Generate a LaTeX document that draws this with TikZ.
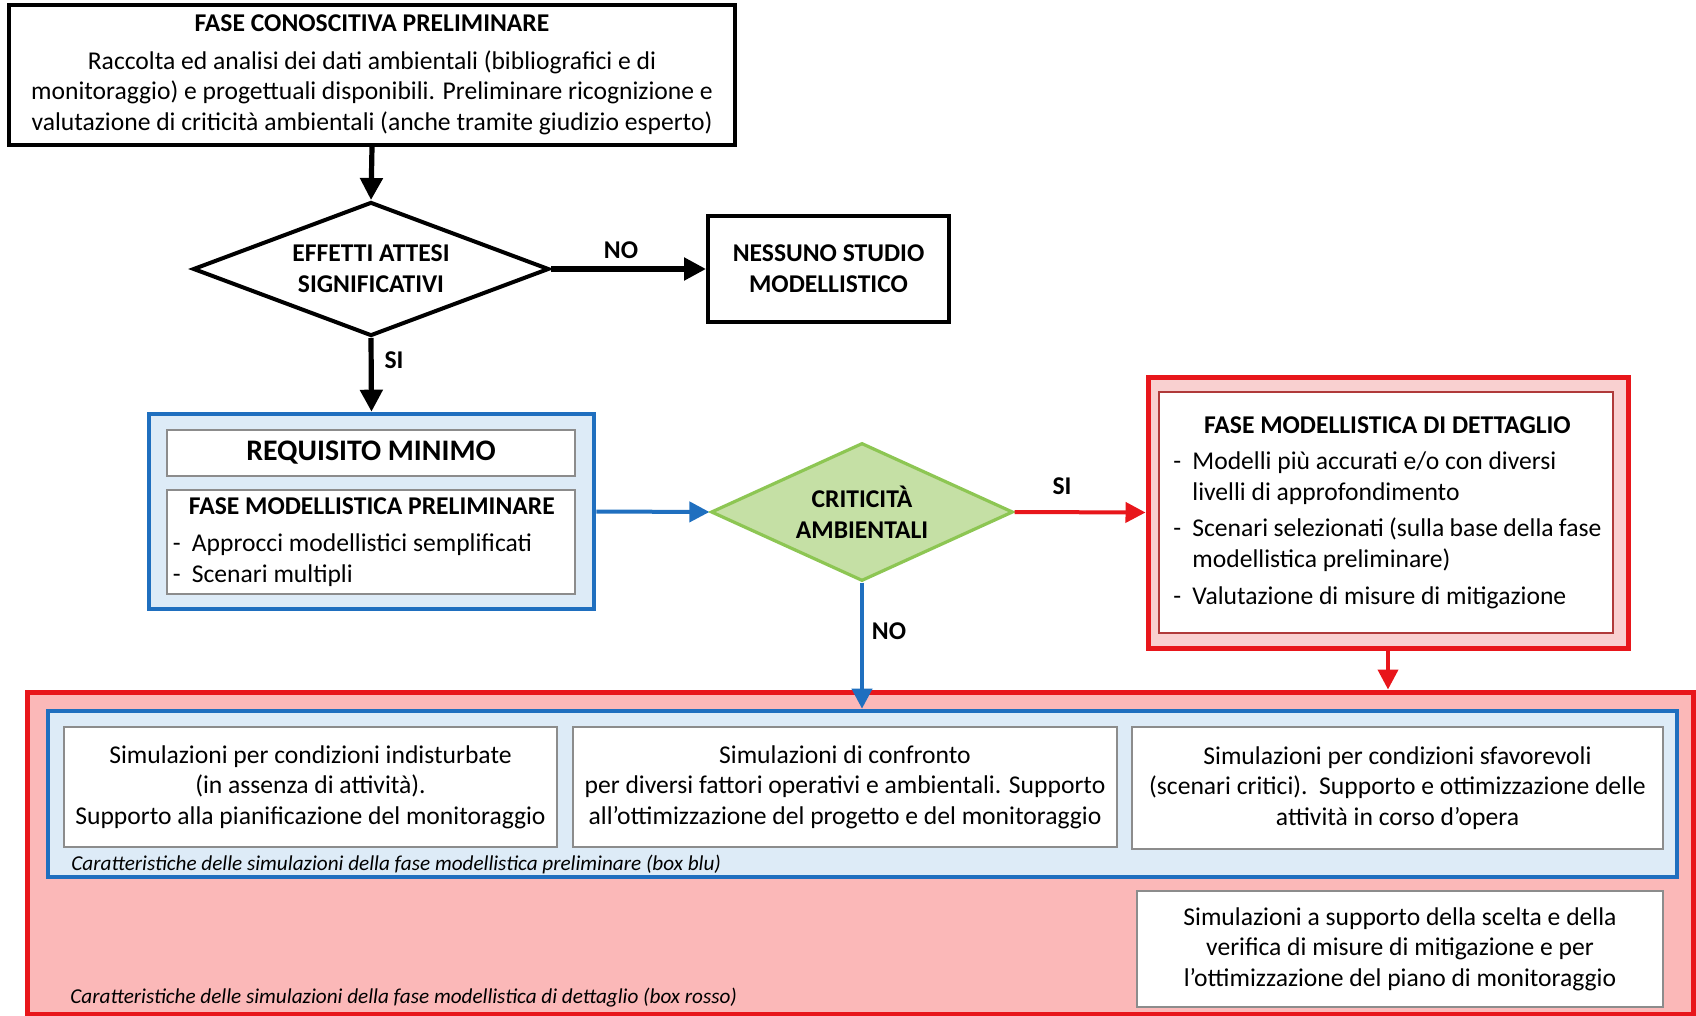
\documentclass[tikz,border=0pt]{standalone}
\usepackage{fontspec}
\setmainfont{Carlito}
\usetikzlibrary{shapes.geometric,arrows.meta,calc}

\definecolor{bblue}{HTML}{1F6FBF}
\definecolor{lblue}{HTML}{DDEBF7}
\definecolor{rred}{HTML}{E8161B}
\definecolor{pinkfill}{HTML}{FBB8B8}
\definecolor{pinkframe}{HTML}{F9D0D0}
\definecolor{gfill}{HTML}{C5E0A5}
\definecolor{gline}{HTML}{8DC653}
\definecolor{thingrey}{HTML}{8C8C8C}
\definecolor{innerred}{HTML}{B03A3A}

% natural interword spacing inside ragged nodes
\newcommand\natspace{\spaceskip=0pt\xspaceskip=0pt\relax}
% one list entry with a leading dash and hanging indent
\newcommand\dashentry[1]{\par\natspace\hangindent=9.5pt\hangafter=1\noindent\makebox[9.5pt][l]{-}#1}

\begin{document}
\begin{tikzpicture}[x=0.5pt,y=-0.5pt,
  base/.style={font=\fontsize{12.8}{15.3}\selectfont},
  blackbox/.style={base,draw=black,line width=2pt,fill=white,rectangle,inner sep=0pt,align=center},
  simbox/.style={base,draw=thingrey,line width=0.8pt,fill=white,rectangle,inner sep=0pt,align=center},
  decision/.style={font=\fontsize{12.8}{15.5}\selectfont\bfseries,diamond,aspect=2.4,inner sep=0pt,align=center},
  lbl/.style={font=\fontsize{12.8}{15.3}\selectfont\bfseries,inner sep=0pt},
  caption/.style={font=\fontsize{10.6}{12}\selectfont\itshape,inner sep=0pt,anchor=west},
  blackarrow/.style={line width=2.6pt,-{Triangle[length=11pt,width=11pt]}},
  bluearrow/.style={draw=bblue,line width=2pt,-{Triangle[length=10pt,width=10pt]},bblue},
  redarrow/.style={draw=rred,line width=2pt,-{Triangle[length=10pt,width=10pt]},rred}
]
\useasboundingbox (0,0) rectangle (1696,1016);
\fill[white] (0,0) rectangle (1696,1016);

% --- knowledge phase ---
\node[blackbox,minimum width=363pt,minimum height=70pt] (fase) at (372,75)
  {\textbf{FASE CONOSCITIVA PRELIMINARE}\\[3.3pt]
   Raccolta ed analisi dei dati ambientali (bibliografici e di\\
   monitoraggio) e progettuali disponibili. Preliminare ricognizione e\\
   valutazione di criticità ambientali (anche tramite giudizio esperto)};

\node[decision,draw=black,line width=2pt,fill=white,minimum width=178pt,minimum height=67pt] (effetti) at (371,269)
  {EFFETTI ATTESI\\SIGNIFICATIVI};

\node[blackbox,font=\fontsize{12.8}{15.5}\selectfont\bfseries,minimum width=120.5pt,minimum height=53pt] (nessuno) at (828.5,269)
  {NESSUNO STUDIO\\MODELLISTICO};

% --- minimum requirement (blue frame) ---
\node[draw=bblue,line width=2.3pt,fill=lblue,rectangle,inner sep=0pt,minimum width=222.5pt,minimum height=97.5pt] (blu) at (371.5,511.5) {};
\node[draw=thingrey,line width=0.7pt,fill=white,rectangle,inner sep=0pt,minimum width=204pt,minimum height=23pt,font=\fontsize{14.9}{17}\selectfont\bfseries] (requisito) at (371,453) {REQUISITO MINIMO};
\node[draw=thingrey,line width=0.7pt,fill=white,rectangle,inner sep=0pt,minimum width=204pt,minimum height=52pt] (prelim) at (371,542) {};
\node[base,inner sep=0pt,text width=199pt,align=left,anchor=west] (prelimtxt) at (172.5,542)
  {\natspace{\centering\bfseries FASE MODELLISTICA PRELIMINARE\par}\vspace{3.5pt}
   \dashentry{Approcci modellistici semplificati}
   \dashentry{Scenari multipli}};

\node[decision,draw=gline,line width=1.6pt,fill=gfill,minimum width=151pt,minimum height=69pt] (critic) at (862,512)
  {CRITICITÀ\\AMBIENTALI};

% --- detailed modelling phase (red frame) ---
\node[draw=rred,line width=2.5pt,fill=pinkframe,rectangle,inner sep=0pt,minimum width=240pt,minimum height=135.5pt] (rosso) at (1388,512.5) {};
\node[draw=innerred,line width=0.7pt,fill=white,rectangle,inner sep=0pt,minimum width=227pt,minimum height=120.5pt] (dettaglio) at (1386,512.5) {};
\node[base,inner sep=0pt,text width=214pt,align=left,anchor=west] (dettagliotxt) at (1173,512.5)
  {\natspace{\centering\bfseries FASE MODELLISTICA DI DETTAGLIO\par}\vspace{3pt}
   \dashentry{Modelli più accurati e/o con diversi\newline livelli di approfondimento}\par\vspace{3pt}
   \dashentry{Scenari selezionati (sulla base della fase\newline modellistica preliminare)}\par\vspace{3pt}
   \dashentry{Valutazione di misure di mitigazione}};

% --- simulation characteristics ---
\node[draw=rred,line width=2.5pt,fill=pinkfill,rectangle,inner sep=0pt,minimum width=833pt,minimum height=161pt] (caratt) at (860,853) {};
\node[draw=bblue,line width=2.3pt,fill=lblue,rectangle,inner sep=0pt,minimum width=814.5pt,minimum height=83pt] (carattblu) at (862.5,794) {};

\node[simbox,minimum width=246.5pt,minimum height=60pt] (sim1) at (310.5,787)
  {Simulazioni per condizioni indisturbate\\(in assenza di attività).\\Supporto alla pianificazione del monitoraggio};
\node[simbox,minimum width=272pt,minimum height=60pt] (sim2) at (845,787)
  {Simulazioni di confronto\\per diversi fattori operativi e ambientali. Supporto\\all’ottimizzazione del progetto e del monitoraggio};
\node[simbox,minimum width=265.5pt,minimum height=61pt] (sim3) at (1397.5,788)
  {Simulazioni per condizioni sfavorevoli\\(scenari critici).\ \ Supporto e ottimizzazione delle\\attività in corso d’opera};
\node[simbox,minimum width=263pt,minimum height=58pt] (sim4) at (1400,949)
  {Simulazioni a supporto della scelta e della\\verifica di misure di mitigazione e per\\l’ottimizzazione del piano di monitoraggio};

\node[caption] (capblu) at (71,864) {Caratteristiche delle simulazioni della fase modellistica preliminare (box blu)};
\node[caption] (caprosso) at (70,998) {Caratteristiche delle simulazioni della fase modellistica di dettaglio (box rosso)};

% --- connectors ---
\draw[blackarrow] (fase.south) -- (effetti.north);
\draw[blackarrow] (effetti.east) -- (nessuno.west);
\draw[blackarrow] (effetti.south) -- (blu.north);
\node[lbl] (lno1) at (621,250) {NO};
\node[lbl] (lsi1) at (394,360) {SI};

\draw[bluearrow] (blu.east) -- (critic.west);
\draw[redarrow] (critic.east) -- (rosso.west);
\node[lbl] (lsi2) at (1062,486) {SI};

\draw[bluearrow] (critic.south) -- (critic.south |- carattblu.north);
\node[lbl] (lno2) at (889,631) {NO};

\draw[redarrow] (rosso.south) -- (rosso.south |- caratt.north);
\end{tikzpicture}
\end{document}
